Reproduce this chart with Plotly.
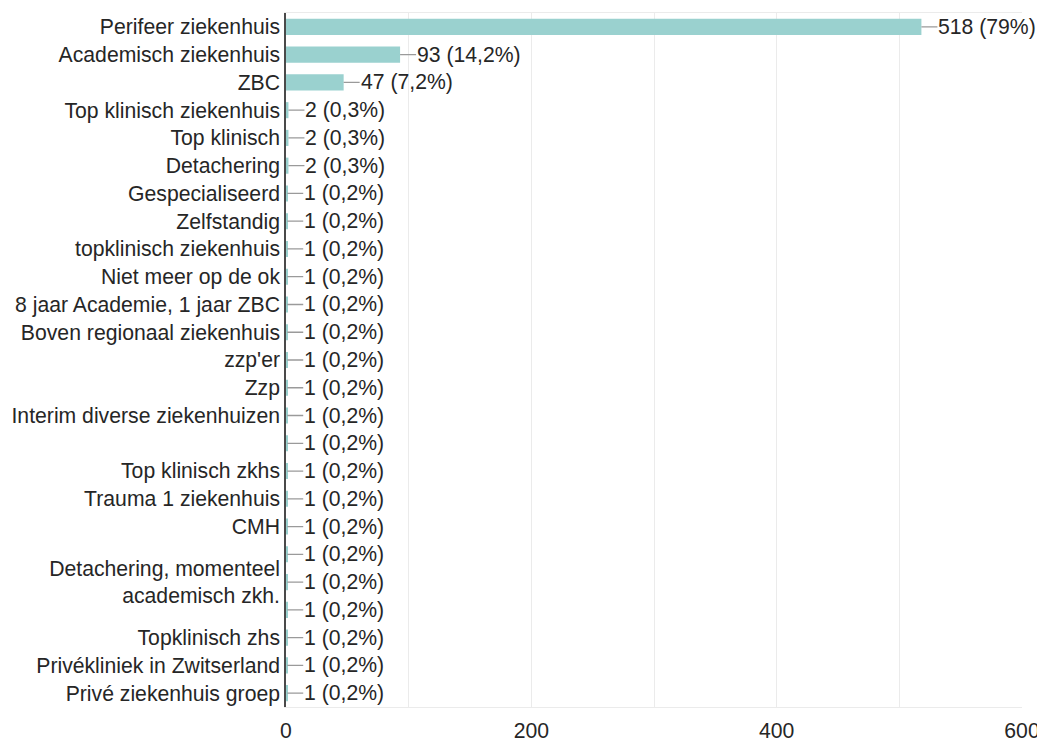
import plotly.graph_objects as go

categories = [
    "Perifeer ziekenhuis", "Academisch ziekenhuis", "ZBC",
    "Top klinisch ziekenhuis", "Top klinisch", "Detachering",
    "Gespecialiseerd", "Zelfstandig", "topklinisch ziekenhuis",
    "Niet meer op de ok", "8 jaar Academie, 1 jaar ZBC",
    "Boven regionaal ziekenhuis", "zzp'er", "Zzp",
    "Interim diverse ziekenhuizen", "", "Top klinisch zkhs",
    "Trauma 1 ziekenhuis", "CMH", "",
    "Detachering, momenteel<br>academisch zkh.", "",
    "Topklinisch zhs", "Privékliniek in Zwitserland", "Privé ziekenhuis groep",
]
values = [518, 93, 47, 2, 2, 2] + [1] * 19
percent_labels = ["79%", "14,2%", "7,2%", "0,3%", "0,3%", "0,3%"] + ["0,2%"] * 19
x_ticks = [0, 200, 400, 600]

positions = list(range(len(categories)))
FONT = "Liberation Sans, Arial, Helvetica, sans-serif"
TXT = "#262626"
FS = 21.2

fig = go.Figure(go.Bar(
    x=values, y=positions, orientation="h",
    marker=dict(color="#9ad1cf", line=dict(width=0)),
    width=0.58, hoverinfo="x+y",
))

for p, v, pc in zip(positions, values, percent_labels):
    fig.add_annotation(
        x=v, y=p, text=f"{v} ({pc})", showarrow=True, arrowhead=0,
        arrowwidth=1.3, arrowcolor="#9a9a9a", ax=16, ay=0,
        xanchor="left", yanchor="middle", borderpad=0,
        font=dict(family=FONT, size=FS, color=TXT),
    )

# page body has an 8px default margin; compensate so the chart lands where the reference has it
fig.update_layout(
    width=1037, height=734,
    margin=dict(l=278, r=23, t=5, b=35),
    plot_bgcolor="white", paper_bgcolor="white",
    showlegend=False,
    font=dict(family=FONT, size=FS, color=TXT),
    xaxis=dict(
        range=[0, 600], tickvals=x_ticks, showgrid=True,
        gridcolor="#ebebeb", gridwidth=1, zeroline=False,
        minor=dict(dtick=100, showgrid=True, gridcolor="#ebebeb", gridwidth=1),
        showline=True, linecolor="#ebebeb", mirror=True,
        ticks="", ticklabelstandoff=5, automargin=False,
        tickfont=dict(family=FONT, size=FS, color=TXT),
    ),
    yaxis=dict(
        range=[len(categories) - 0.5, -0.5],
        tickvals=positions, ticktext=categories,
        showgrid=False, zeroline=False,
        showline=True, linecolor="#4a4a4a", linewidth=1.5,
        ticks="", ticklabelstandoff=0, automargin=False,
        tickfont=dict(family=FONT, size=FS, color=TXT),
    ),
)

fig.write_html("out.html")
